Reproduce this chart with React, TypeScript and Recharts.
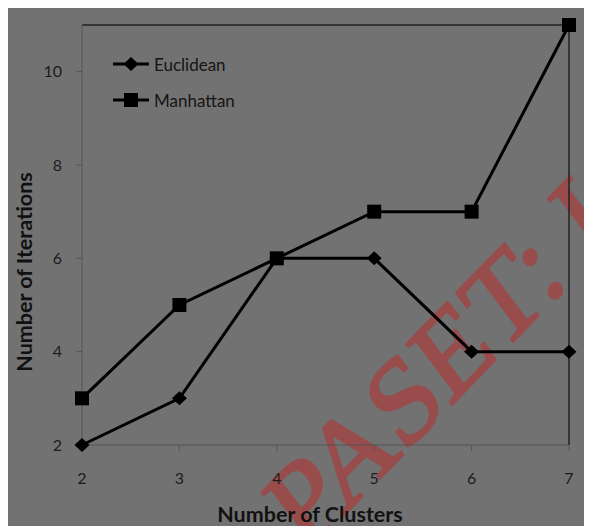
import React from 'react';
import {
  LineChart,
  Line,
  XAxis,
  YAxis,
  ReferenceLine,
} from 'recharts';

const clusters = [2, 3, 4, 5, 6, 7];
const euclidean = [2, 3, 6, 6, 4, 4];
const manhattan = [3, 5, 6, 7, 7, 11];
const yTicks = [2, 4, 6, 8, 10];

const data = clusters.map((k, i) => ({ k, euclidean: euclidean[i], manhattan: manhattan[i] }));

const BG = '#727272';
const AXIS = '#555555';
const FONT = 'Lato, "Open Sans", sans-serif';

const Diamond = (props: any) => {
  const { cx, cy } = props;
  if (cx == null || cy == null) return null;
  return <polygon points={`${cx},${cy - 7} ${cx + 7.5},${cy} ${cx},${cy + 7} ${cx - 7.5},${cy}`} fill="#000" />;
};

const Square = (props: any) => {
  const { cx, cy } = props;
  if (cx == null || cy == null) return null;
  return <rect x={cx - 7} y={cy - 7} width={14} height={14} fill="#000" />;
};

const legendRows = [
  { name: 'Euclidean', marker: 'diamond' },
  { name: 'Manhattan', marker: 'square' },
];

const LegendBox = () => (
  <div style={{ position: 'absolute', left: 105, top: 46, fontFamily: FONT, fontSize: 17, color: '#151515' }}>
    {legendRows.map((r) => (
      <div key={r.name} style={{ display: 'flex', alignItems: 'center', height: 20, marginBottom: 16 }}>
        <svg width={36} height={20}>
          <line x1={0} y1={10} x2={36} y2={10} stroke="#000" strokeWidth={3} />
          {r.marker === 'diamond' ? <Diamond cx={18} cy={10} /> : <Square cx={18} cy={10} />}
        </svg>
        <span style={{ marginLeft: 5 }}>{r.name}</span>
      </div>
    ))}
  </div>
);

export default function App() {
  return (
    <div style={{ position: 'relative', width: 584, height: 518, background: BG, overflow: 'hidden' }}>
      <svg width={584} height={518} style={{ position: 'absolute', left: 0, top: 0 }}>
        {/* skewed watermark */}
        <g opacity={0.5}>
          <text
            transform="matrix(0.831 -0.852 0.69 0.92 296.8 547.1)"
            fontFamily='"Liberation Serif", serif'
            fontSize={100}
            fill="rgb(190,40,40)"
            stroke="rgb(190,40,40)"
            strokeWidth={2.5}
            strokeLinejoin="round"
          >
            PASET: I
          </text>
        </g>
        <text
          x={24}
          y={264}
          transform="rotate(-90 24 264)"
          textAnchor="middle"
          fontFamily={FONT}
          fontWeight="bold"
          fontSize={21.5}
          fill="#111"
        >
          Number of Iterations
        </text>
        <text
          x={302}
          y={514}
          textAnchor="middle"
          fontFamily={FONT}
          fontWeight="bold"
          fontSize={21.5}
          fill="#111"
        >
          Number of Clusters
        </text>
      </svg>
      <div style={{ position: 'absolute', left: 0, top: 0 }}>
        <LineChart width={584} height={518} data={data} margin={{ top: 17, right: 23, bottom: 51, left: 30 }}>
          <XAxis
            dataKey="k"
            type="number"
            domain={[2, 7]}
            ticks={clusters}
            height={30}
            stroke={AXIS}
            tickSize={6}
            tickMargin={22}
            tick={{ fill: '#1c1c1c', fontSize: 16, fontFamily: FONT }}
          />
          <YAxis
            type="number"
            domain={[2, 11]}
            ticks={yTicks}
            width={44}
            stroke={AXIS}
            tickSize={6}
            tickMargin={14}
            tick={{ fill: '#1c1c1c', fontSize: 16, fontFamily: FONT }}
          />
          <ReferenceLine y={11} stroke="#222" strokeWidth={1.5} />
          <ReferenceLine x={7} stroke="#222" strokeWidth={1.5} />
          <Line
            type="linear"
            dataKey="euclidean"
            name="Euclidean"
            stroke="#000"
            strokeWidth={3}
            dot={<Diamond />}
            activeDot={false}
            isAnimationActive={false}
          />
          <Line
            type="linear"
            dataKey="manhattan"
            name="Manhattan"
            stroke="#000"
            strokeWidth={3}
            dot={<Square />}
            activeDot={false}
            isAnimationActive={false}
          />
        </LineChart>
      </div>
      <LegendBox />
    </div>
  );
}
